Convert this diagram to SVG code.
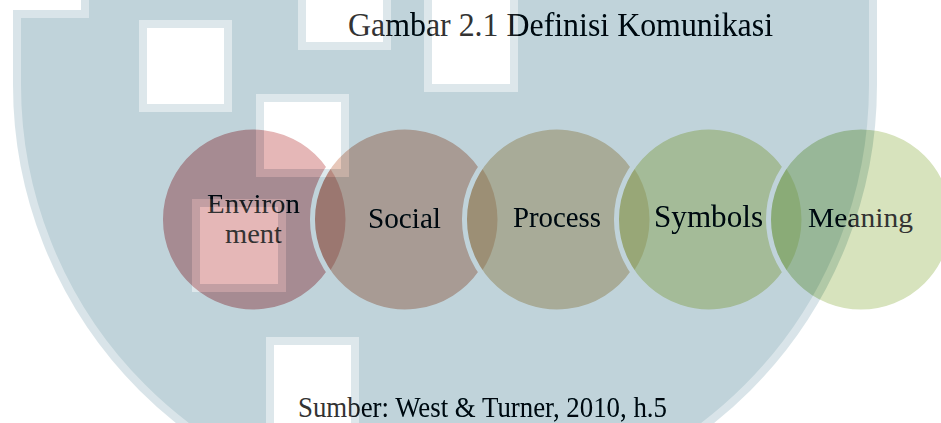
<svg xmlns="http://www.w3.org/2000/svg" xmlns:xlink="http://www.w3.org/1999/xlink" width="941" height="423" viewBox="0 0 941 423">
<style>
.c{fill-opacity:0.5;stroke:none}
.ring{fill:none;stroke:#fff;stroke-width:5}
.lbl{font-family:"Liberation Serif","Times New Roman",serif;font-size:30px;fill:#333;text-anchor:middle}
.cap{font-family:"Liberation Serif","Times New Roman",serif;fill:#333;text-anchor:middle}
</style>
<defs>
<filter id="burn" filterUnits="userSpaceOnUse" x="0" y="0" width="941" height="423" color-interpolation-filters="sRGB">
<feComponentTransfer>
<feFuncR type="linear" slope="1" intercept="-0.247"/>
<feFuncG type="linear" slope="1" intercept="-0.169"/>
<feFuncB type="linear" slope="1" intercept="-0.145"/>
</feComponentTransfer>
</filter>
<mask id="wm" maskUnits="userSpaceOnUse" x="0" y="0" width="941" height="423">
<path d="M17 14 H85 V-10 H873 V85 A428 428 0 0 1 17 85 Z" fill="#fff" stroke="#9a9a9a" stroke-width="8"/>
<g fill="#000" stroke="#8a8a8a" stroke-width="8">
<rect x="143" y="24" width="85" height="84"/>
<rect x="260" y="98" width="85" height="75"/>
<rect x="302" y="-20" width="85" height="66"/>
<rect x="428" y="-20" width="86" height="108"/>
<rect x="196" y="203" width="86" height="85"/>
<rect x="270" y="341" width="85" height="100"/>
</g>
</mask>
</defs>
<g id="diagram">
<rect x="0" y="0" width="941" height="423" fill="#fff"/>
<g id="node-environment">
<circle class="c" cx="253" cy="219.5" r="92.5" fill="#cb6f6f"/>
<path class="ring" d="M329 166.8 A92.5 92.5 0 1 0 329 272.2"/>
<text class="lbl" x="253.5" y="212.5" style="font-size:27px" textLength="93" lengthAdjust="spacingAndGlyphs">Environ</text>
<text class="lbl" x="253.5" y="242.5" style="font-size:27px" textLength="57" lengthAdjust="spacingAndGlyphs">ment</text>
</g>
<g id="node-social">
<circle class="c" cx="405" cy="219.5" r="92.5" fill="#cf8f73"/>
<path class="ring" d="M481 166.8 A92.5 92.5 0 1 0 481 272.2"/>
<text class="lbl" x="404.5" y="228" textLength="73" lengthAdjust="spacingAndGlyphs">Social</text>
</g>
<g id="node-process">
<circle class="c" cx="557" cy="219.5" r="92.5" fill="#cfaf7b"/>
<path class="ring" d="M633 166.8 A92.5 92.5 0 1 0 633 272.2"/>
<text class="lbl" x="557" y="227" textLength="88" lengthAdjust="spacingAndGlyphs">Process</text>
</g>
<g id="node-symbols">
<circle class="c" cx="709" cy="219.5" r="92.5" fill="#c7cf7b"/>
<path class="ring" d="M785 166.8 A92.5 92.5 0 1 0 785 272.2"/>
<text class="lbl" x="708.5" y="227" style="font-size:31px" textLength="109" lengthAdjust="spacingAndGlyphs">Symbols</text>
</g>
<g id="node-meaning">
<circle class="c" cx="861" cy="219.5" r="92.5" fill="#afc77b"/>
<circle class="ring" cx="861" cy="219.5" r="92.5"/>
<text class="lbl" x="860.5" y="227" style="font-size:27px" textLength="105" lengthAdjust="spacingAndGlyphs">Meaning</text>
</g>
<g id="connectors"/>
<text class="cap" x="560.5" y="36" style="font-size:34px" textLength="425" lengthAdjust="spacingAndGlyphs">Gambar 2.1 Definisi Komunikasi</text>
<text class="cap" x="482.5" y="417" style="font-size:29px" textLength="369" lengthAdjust="spacingAndGlyphs">Sumber: West &amp; Turner, 2010, h.5</text>
</g>
<use xlink:href="#diagram" href="#diagram" filter="url(#burn)" mask="url(#wm)"/>
</svg>
